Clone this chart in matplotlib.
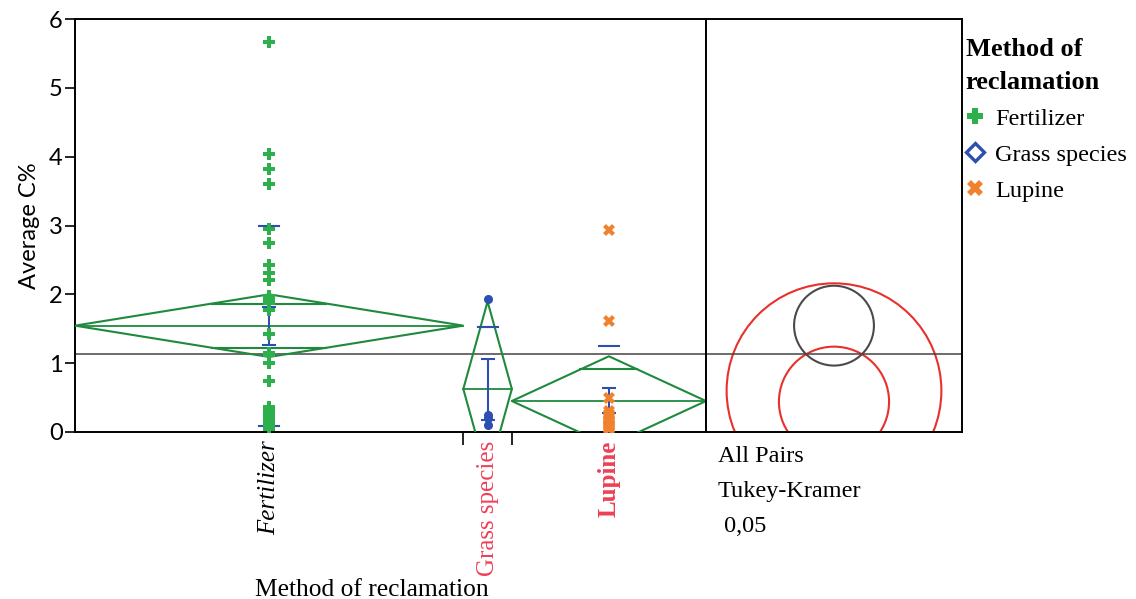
import numpy as np
import matplotlib
matplotlib.use('Agg')
import matplotlib.pyplot as plt
from matplotlib.patches import Polygon, Circle
from matplotlib.lines import Line2D

groups = ['Fertilizer', 'Grass species', 'Lupine']
counts = [32, 4, 16]

fert = [5.67, 4.04, 3.82, 3.61, 2.95, 2.74, 2.43, 2.31, 2.21, 1.98, 1.93, 1.88, 1.77,
        1.43, 1.15, 1.12, 1.00, 0.74, 0.37, 0.33, 0.28, 0.25, 0.22, 0.20, 0.18, 0.16,
        0.14, 0.12, 0.10, 0.08, 0.06, 0.04]
grass = [1.93, 0.24, 0.21, 0.10]
lupine = [2.94, 1.61, 0.50, 0.30, 0.26, 0.23, 0.20, 0.18, 0.16, 0.14, 0.12, 0.10,
          0.09, 0.08, 0.06, 0.05]

means = [1.545, 0.625, 0.45]
ci_half = [0.455, 1.27, 0.65]          # diamond half heights
se_lo = [1.27, 0.18, 0.27]
se_hi = [1.82, 1.06, 0.64]
sd_lo = [0.08, -0.27, -0.35]
sd_hi = [2.99, 1.52, 1.25]
grand_mean = 1.13

# comparison circles (Tukey-Kramer 0.05)
circ_center = [1.545, 0.60, 0.44]
circ_radius = [0.58, 1.56, 0.80]
circ_color = ['#4a4a4a', '#e8302c', '#e8302c']

green = '#1f8a3e'
blue = '#2c4fb0'
serif = 'Liberation Serif'

W, H = 1136, 599
fig = plt.figure(figsize=(W / 100, H / 100), dpi=100)
ax = fig.add_axes([75 / W, (H - 432) / H, (706 - 75) / W, (432 - 19) / H])
axc = fig.add_axes([706 / W, (H - 432) / H, (962 - 706) / W, (432 - 19) / H])

edges = np.concatenate([[0], np.cumsum(counts)])
centers = (edges[:-1] + edges[1:]) / 2

# points
ax.plot([centers[0]] * len(fert), fert, ls='none', marker='P', ms=8.5, color='#2db04b', mew=0, zorder=5)
ax.plot([centers[1]] * len(grass), grass, ls='none', marker='o', ms=5.5, color=blue, zorder=5)
ax.plot([centers[2]] * len(lupine), lupine, ls='none', marker='X', ms=9, color='#f0822e', mew=0, zorder=5)

for i in range(3):
    l, r, c, m, h = edges[i], edges[i + 1], centers[i], means[i], ci_half[i]
    ax.add_patch(Polygon([[l, m], [c, m + h], [r, m], [c, m - h]], closed=True,
                         fill=False, ec=green, lw=1.5, zorder=3))
    ax.plot([l, r], [m, m], color=green, lw=1.3, zorder=3)
    hw = (r - l) / 2 * (1 - 1 / np.sqrt(2))
    for s in (1, -1):
        ax.plot([c - hw, c + hw], [m + s * h / np.sqrt(2)] * 2, color=green, lw=1.5, zorder=3)
    # std dev lines and mean error bars
    dx = 20 / 631 * 52 / 2
    for v in (sd_lo[i], sd_hi[i]):
        ax.plot([c - dx, c + dx], [v, v], color=blue, lw=1.5, zorder=4)
    ax.errorbar(c, (se_lo[i] + se_hi[i]) / 2, yerr=(se_hi[i] - se_lo[i]) / 2,
                color=blue, capsize=5, lw=1.5, capthick=1.5, zorder=4)

ax.axhline(grand_mean, color='#444444', lw=1.1, zorder=2)
ax.set_xlim(0, edges[-1])
ax.set_ylim(0, 6)
ax.set_yticks(range(7))
ax.tick_params(axis='y', labelsize=17, length=7, width=1.2, pad=2)
for t in ax.get_yticklabels():
    t.set_fontfamily('Lato')
ax.set_ylabel('Average C%', fontsize=17, family='Lato', labelpad=6)

ax.set_xticks(edges[1:-1])
ax.set_xticklabels([])
ax.tick_params(axis='x', which='major', length=9, width=1.2)
ax.set_xticks(centers, minor=True)
ax.set_xticklabels(groups, minor=True, rotation=90, family=serif, fontsize=18, va='top')
ax.tick_params(axis='x', which='minor', length=0, pad=6)
lab = ax.get_xticklabels(minor=True)
lab[0].set_style('italic')
lab[1].set_color('#ee3f55')
lab[2].set_color('#ee3f55')
lab[2].set_fontweight('bold')
for s in ax.spines.values():
    s.set_linewidth(1.4)

fig.text(372 / W, 1 - 590 / H, 'Method of reclamation', family=serif, fontsize=18.4,
         ha='center', va='center')

# comparison circles panel
hw_units = 6 * (962 - 706) / (432 - 19) / 2
axc.set_xlim(-hw_units, hw_units)
axc.set_ylim(0, 6)
for cy, r, col in zip(circ_center, circ_radius, circ_color):
    axc.add_patch(Circle((0, cy), r, fill=False, ec=col, lw=1.5))
axc.axhline(grand_mean, color='#444444', lw=1.1)
axc.set_xticks([])
axc.set_yticks([])
for s in axc.spines.values():
    s.set_linewidth(1.4)
for y, txt in zip([456, 492, 526], ['All Pairs', 'Tukey-Kramer', ' 0,05']):
    fig.text(718 / W, 1 - y / H, txt, family=serif, fontsize=17.5, va='center')

# legend
handles = [Line2D([], [], ls='none', marker='P', ms=11, color='#2db04b', mew=0),
           Line2D([], [], ls='none', marker='D', ms=9, mfc='white', mec=blue, mew=2.4),
           Line2D([], [], ls='none', marker='X', ms=11, color='#f0822e', mew=0)]
leg = fig.legend(handles, groups, loc='upper left', bbox_to_anchor=(956 / W, 1 - 28 / H),
                 title='Method of\nreclamation', frameon=False,
                 prop={'family': serif, 'size': 17.5}, handlelength=0.8, handletextpad=0.4,
                 labelspacing=0.58, borderaxespad=0, alignment='left')
leg.get_title().set_fontfamily(serif)
leg.get_title().set_fontweight('bold')
leg.get_title().set_fontsize(19)
leg.get_title().set_linespacing(1.55)

fig.savefig('out.png', dpi=100)
